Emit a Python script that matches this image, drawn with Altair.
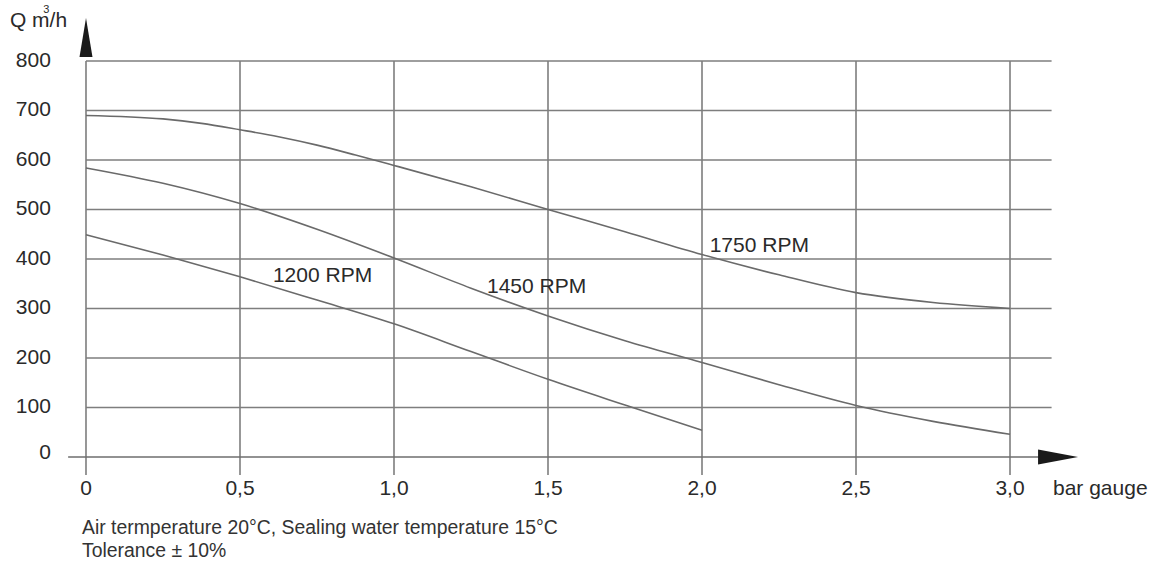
import altair as alt
import pandas as pd

# ---- data ----
x_1750 = [0, 0.25, 0.375, 0.5, 0.625, 0.75, 0.875, 1.0, 1.25, 1.5, 1.75, 2.0, 2.25, 2.5, 2.75, 3.0]
q_1750 = [690, 683, 674, 661, 647, 630, 610, 589, 546, 500, 455, 409, 368, 332, 312, 300]
x_1450 = [0, 0.25, 0.5, 0.75, 1.0, 1.25, 1.5, 1.75, 2.0, 2.25, 2.5, 2.75, 3.0]
q_1450 = [584, 553, 512, 460, 402, 341, 285, 235, 191, 146, 104, 72, 46]
x_1200 = [0, 0.25, 0.5, 0.75, 1.0, 1.25, 1.5, 1.75, 2.0]
q_1200 = [449, 408, 364, 317, 269, 213, 157, 105, 54]

y_ticks = [0, 100, 200, 300, 400, 500, 600, 700, 800]
x_ticks = [0, 0.5, 1.0, 1.5, 2.0, 2.5, 3.0]
x_tick_labels = ["0", "0,5", "1,0", "1,5", "2,0", "2,5", "3,0"]

series_names = ["1200 RPM", "1450 RPM", "1750 RPM"]
label_x = [0.768, 1.463, 2.186]
label_y = [365, 344, 427]

notes = ["Air termperature 20°C, Sealing water temperature 15°C", "Tolerance ± 10%"]
y_unit = "Q m/h"
y_unit_sup = "3"
x_unit = "bar gauge"

# ---- frame geometry in data units ----
XMIN, XMAX = -0.2792, 3.474
YMIN, YMAX = -228.3, 923.2
W, H = 1156, 570

FONT = "Liberation Sans"
TXT = "#2a2a2a"
GRID = "#7e7e7e"
CURVE = "#6a6a6a"

xs = alt.Scale(domain=[XMIN, XMAX], nice=False, zero=False)
ys = alt.Scale(domain=[YMIN, YMAX], nice=False, zero=False)

def X(f="x"):
    return alt.X(f"{f}:Q", scale=xs, axis=None)

def Y(f="y"):
    return alt.Y(f"{f}:Q", scale=ys, axis=None)

# grid lines
hgrid = pd.DataFrame({"y": y_ticks[1:], "x": 0.0, "x2": 3.135})
vgrid = pd.DataFrame({"x": x_ticks, "y": -36.4, "y2": 800})
zero = pd.DataFrame({"y": [0], "x": [-0.058], "x2": [3.11]})

hrules = alt.Chart(hgrid).mark_rule(color=GRID, strokeWidth=1.6).encode(
    x=X(), x2="x2:Q", y=Y())
vrules = alt.Chart(vgrid).mark_rule(color=GRID, strokeWidth=1.6).encode(
    x=X(), y=Y(), y2="y2:Q")
zrule = alt.Chart(zero).mark_rule(color="#6e6e6e", strokeWidth=1.6).encode(
    x=X(), x2="x2:Q", y=Y())

# curves
rows = []
for name, xv, qv in [("1750 RPM", x_1750, q_1750), ("1450 RPM", x_1450, q_1450), ("1200 RPM", x_1200, q_1200)]:
    for a, b in zip(xv, qv):
        rows.append({"series": name, "x": a, "y": b})
curves_df = pd.DataFrame(rows)
curves = alt.Chart(curves_df).mark_line(color=CURVE, strokeWidth=1.6, interpolate="monotone").encode(
    x=X(), y=Y(), detail="series:N")

# series labels
lab_df = pd.DataFrame({"t": series_names, "x": label_x, "y": label_y})
labels = alt.Chart(lab_df).mark_text(font=FONT, fontSize=21, color=TXT, align="center", baseline="middle").encode(
    x=X(), y=Y(), text="t:N")

# y tick labels
ytl = pd.DataFrame({"t": [str(v) for v in y_ticks[1:]], "y": y_ticks[1:], "x": -0.114})
ylabels = alt.Chart(ytl).mark_text(font=FONT, fontSize=21, color=TXT, align="right", baseline="middle").encode(
    x=X(), y=Y(), text="t:N")
y0label = alt.Chart(pd.DataFrame({"t": [str(y_ticks[0])], "y": [y_ticks[0]], "x": [-0.114]})).mark_text(
    font=FONT, fontSize=21, color=TXT, align="right", baseline="middle", dy=-4).encode(
    x=X(), y=Y(), text="t:N")

# x tick labels
xtl = pd.DataFrame({"t": x_tick_labels, "x": x_ticks, "y": -64.6})
xlabels = alt.Chart(xtl).mark_text(font=FONT, fontSize=21, color=TXT, align="center", baseline="middle").encode(
    x=X(), y=Y(), text="t:N")

# units
xu = alt.Chart(pd.DataFrame({"t": [x_unit], "x": [3.1396], "y": [-64.6]})).mark_text(
    font=FONT, fontSize=21, color=TXT, align="left", baseline="middle").encode(x=X(), y=Y(), text="t:N")
yu = alt.Chart(pd.DataFrame({"t": [y_unit], "x": [-0.247], "y": [868.7]})).mark_text(
    font=FONT, fontSize=21, color=TXT, align="left", baseline="alphabetic").encode(x=X(), y=Y(), text="t:N")
yus = alt.Chart(pd.DataFrame({"t": [y_unit_sup], "x": [-0.139], "y": [896]})).mark_text(
    font=FONT, fontSize=11, color=TXT, align="left", baseline="alphabetic").encode(x=X(), y=Y(), text="t:N")

# notes
nt = pd.DataFrame({"t": notes, "x": [-0.013, -0.013], "y": [-143.4, -190.9]})
notes_txt = alt.Chart(nt).mark_text(font=FONT, fontSize=19.4, color="#333333", align="left", baseline="middle").encode(
    x=X(), y=Y(), text="t:N")

# arrows
up_arrow = alt.Chart(pd.DataFrame({"x": [0.0], "y": [847.5]})).mark_point(
    shape="M0,-1L0.333,1L-0.333,1Z", size=1521, filled=True, color="#1a1a1a", opacity=1, strokeWidth=0).encode(
    x=X(), y=Y())
right_arrow = alt.Chart(pd.DataFrame({"x": [3.156], "y": [0.0]})).mark_point(
    shape="M1,0L-1,0.375L-1,-0.375Z", size=1600, filled=True, color="#1a1a1a", opacity=1, strokeWidth=0).encode(
    x=X(), y=Y())

chart = alt.layer(
    hrules, vrules, zrule, curves, labels, ylabels, y0label, xlabels, xu, yu, yus, notes_txt, up_arrow, right_arrow
).properties(
    width=W, height=H, autosize=alt.AutoSizeParams(type="none"), padding=0, background="white"
).configure_view(stroke=None)

chart.save("out.html", embed_options={"renderer": "svg", "actions": False})
